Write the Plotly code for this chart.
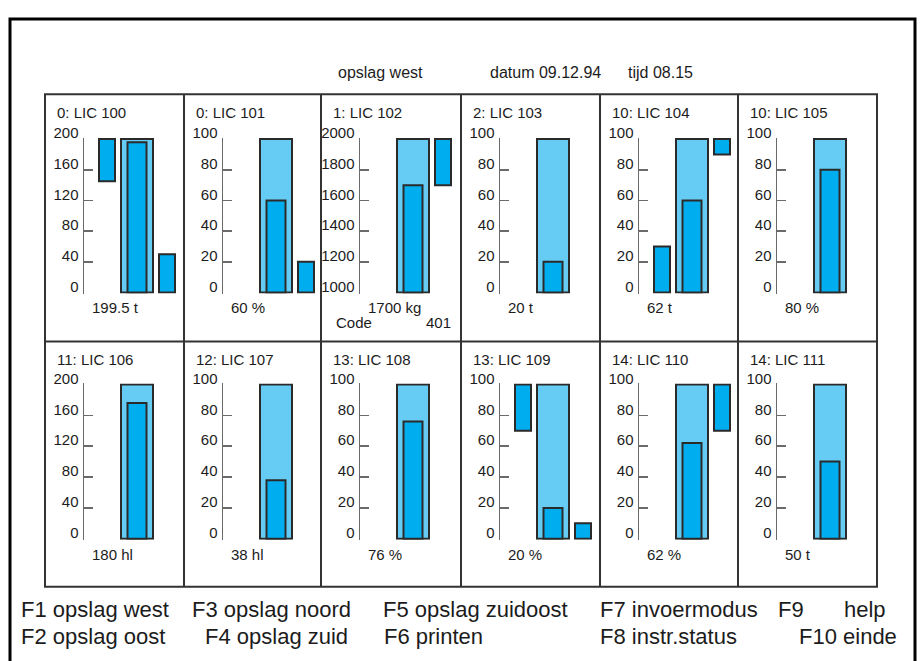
import plotly.graph_objects as go

# ---------------- data ----------------
titles = ["0: LIC 100", "0: LIC 101", "1: LIC 102", "2: LIC 103", "10: LIC 104", "10: LIC 105",
          "11: LIC 106", "12: LIC 107", "13: LIC 108", "13: LIC 109", "14: LIC 110", "14: LIC 111"]
value_labels = ["199.5 t", "60 %", "1700 kg", "20 t", "62 t", "80 %",
                "180 hl", "38 hl", "76 %", "20 %", "62 %", "50 t"]
scale_min = [0, 0, 1000, 0, 0, 0, 0, 0, 0, 0, 0, 0]
scale_max = [200, 100, 2000, 100, 100, 100, 200, 100, 100, 100, 100, 100]
levels = [196, 60, 1700, 20, 60, 80, 176, 38, 76, 20, 62, 50]
left_lo = [145, None, None, None, 0, None, None, None, None, 70, None, None]
left_hi = [200, None, None, None, 30, None, None, None, None, 100, None, None]
right_lo = [0, 0, 1700, None, 90, None, None, None, None, 0, 70, None]
right_hi = [50, 20, 2000, None, 100, None, None, None, None, 10, 100, None]

header_texts = ["opslag west", "datum 09.12.94", "tijd 08.15"]
code_texts = ["Code", "401"]
footer_line1 = ["F1 opslag west", "F3 opslag noord", "F5 opslag zuidoost", "F7 invoermodus", "F9", "help"]
footer_line2 = ["F2 opslag oost", "F4 opslag zuid", "F6 printen", "F8 instr.status", "F10 einde"]

# ---------------- layout constants (pixels in the reference picture) ----------------
W, H = 922, 661
col_edges = [45, 184, 321, 461, 600, 738, 877]
row_edges = [82, 335, 586]
axis_top = [128, 379]
axis_bot = [285, 537]
AX_OFF = 39
# bar positions in x-axis units (1 unit = 1 px), relative to the axis line
POS_LEFT, POS_TANK, POS_RIGHT = 23, 53, 83
W_SIDE, W_TANK, W_LEVEL = 16, 32, 19

LIGHT = "#66CCF4"
DARK = "#00ADEE"
EDGE = "#2a2a2a"
TXT = "#1c1c1c"
FONT = "Liberation Sans, Arial, sans-serif"


def px(x):
    return x / W


def py(y):
    return 1 - y / H


fig = go.Figure()
annotations = []
shapes = []


def note(text, x, y, size, anchor="left", color=TXT):
    annotations.append(dict(text=text, x=px(x), y=py(y), xref="paper", yref="paper",
                            xanchor=anchor, yanchor="middle", showarrow=False,
                            font=dict(family=FONT, size=size, color=color)))


for i in range(12):
    r, c = divmod(i, 6)
    n = i + 1
    xa = "x" if n == 1 else f"x{n}"
    ya = "y" if n == 1 else f"y{n}"
    left = col_edges[c]
    top = row_edges[r]
    lo, hi = scale_min[i], scale_max[i]
    span_px = axis_bot[r] - axis_top[r]
    pad = (hi - lo) / span_px * 1.0

    def add_bar(pos, b_lo, b_hi, width, color):
        fig.add_trace(go.Bar(
            x=[pos], y=[b_hi - b_lo], base=[b_lo], width=[width],
            marker=dict(color=color, line=dict(color=EDGE, width=2)),
            xaxis=xa, yaxis=ya, showlegend=False, hoverinfo="skip"))

    if left_lo[i] is not None:
        add_bar(POS_LEFT, left_lo[i], left_hi[i], W_SIDE, DARK)
    add_bar(POS_TANK, lo, hi, W_TANK, LIGHT)
    add_bar(POS_TANK, lo, levels[i], W_LEVEL, DARK)
    if right_lo[i] is not None:
        add_bar(POS_RIGHT, right_lo[i], right_hi[i], W_SIDE, DARK)

    xkey = "xaxis" if n == 1 else f"xaxis{n}"
    ykey = "yaxis" if n == 1 else f"yaxis{n}"
    fig.layout[xkey] = dict(domain=[px(left + AX_OFF), px(left + AX_OFF + 100)],
                            range=[0, 100], visible=False, anchor=ya, fixedrange=True)
    fig.layout[ykey] = dict(domain=[py(axis_bot[r] + 1), py(axis_top[r] - 1)],
                            range=[lo - pad, hi + pad], anchor=xa,
                            tick0=lo, dtick=(hi - lo) / 5,
                            showline=True, linecolor="#6a6a6a", linewidth=1.5,
                            ticks="inside", ticklen=9, tickwidth=1.5, tickcolor="#6a6a6a",
                            showgrid=False, zeroline=False, fixedrange=True,
                            tickfont=dict(family=FONT, size=15, color=TXT),
                            ticklabelshift=-6, ticklabelstandoff=1)

    note(titles[i], left + 10, top + 19, 15)
    note(value_labels[i], left + 45, top + 218, 15)

# "Code 401" in the LIC 102 panel
note(code_texts[0], 334, 316, 15)
note(code_texts[1], 453, 316, 15, anchor="right")

# header
for t, x0 in zip(header_texts, [336, 488, 626]):
    note(t, x0, 60, 16)

# footer
for t, x0 in zip(footer_line1, [19, 190, 381, 598, 776, 842]):
    note(t, x0, 609, 22)
for t, x0 in zip(footer_line2, [19, 203, 382, 598, 797]):
    note(t, x0, 637, 22)

# outer frame (bottom edge lies below the visible area)
shapes.append(dict(type="rect", xref="paper", yref="paper", x0=px(10), y0=py(700), x1=px(915), y1=py(5),
                   line=dict(color="black", width=3), layer="below"))
# grid of panels
shapes.append(dict(type="rect", xref="paper", yref="paper",
                   x0=px(col_edges[0]), y0=py(row_edges[2]), x1=px(col_edges[-1]), y1=py(row_edges[0]),
                   line=dict(color="#333333", width=2), layer="below"))
for xe in col_edges[1:-1]:
    shapes.append(dict(type="line", xref="paper", yref="paper", x0=px(xe), x1=px(xe),
                       y0=py(row_edges[2]), y1=py(row_edges[0]),
                       line=dict(color="#333333", width=2), layer="below"))
shapes.append(dict(type="line", xref="paper", yref="paper", x0=px(col_edges[0]), x1=px(col_edges[-1]),
                   y0=py(row_edges[1]), y1=py(row_edges[1]),
                   line=dict(color="#333333", width=2), layer="below"))

fig.update_layout(width=W, height=H, margin=dict(l=0, r=0, t=0, b=0),
                  paper_bgcolor="white", plot_bgcolor="rgba(0,0,0,0)",
                  barmode="overlay", showlegend=False,
                  annotations=annotations, shapes=shapes,
                  font=dict(family=FONT, color=TXT))

page_fix = ("document.body.style.margin='0';document.body.style.padding='0';"
            "document.body.style.overflow='hidden';document.documentElement.style.overflow='hidden';")
fig.write_html("out.html", post_script=page_fix, config={"displayModeBar": False, "staticPlot": True})
